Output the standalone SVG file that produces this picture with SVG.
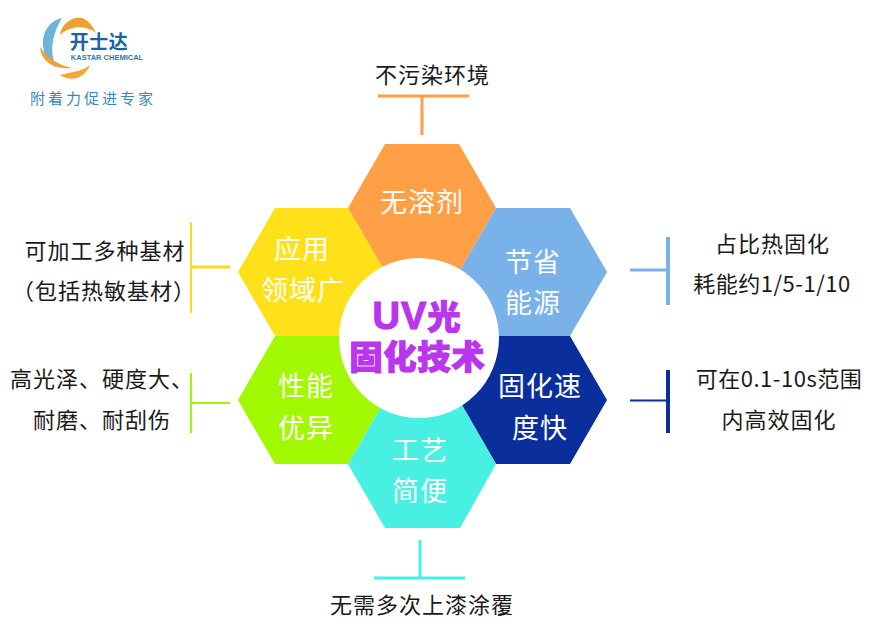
<svg xmlns="http://www.w3.org/2000/svg" width="886" height="633" viewBox="0 0 886 633">
<style>
text{font-family:"Noto Sans CJK SC","Liberation Sans",sans-serif;text-anchor:middle}
.h{font-size:27px;fill:#fff;letter-spacing:1px}
.l{font-size:22px;fill:#1a1a1a;letter-spacing:1px}
.n{letter-spacing:.5px}
.c{font-size:33px;font-weight:900;fill:#b935ee;stroke:#b935ee;stroke-width:1.2px;letter-spacing:1px}
.ln{fill:none;stroke-width:3}
</style>
<rect width="886" height="633" fill="#fff"/>
<g id="logo">
<path d="M62 18C48 21 42 34 43 46C44 56 50 64 57 68C50 56 50 38 62 18Z" fill="#6db4d8"/>
<path d="M60 35C61 24 72 16 82 18C88 20 93 26 96 33C86 25 71 25 60 35Z" fill="#f0a030"/>
<path d="M40 47C41 60 52 70 73 68C60 66 48 58 40 47Z" fill="#f0a030"/>
<path d="M60 75C72 83 86 77 90 65C83 71 72 72 60 75Z" fill="#f2a83a"/>
<text x="99" y="49" style="font-size:19px;font-weight:700;fill:#1763a8;letter-spacing:.5px">开士达</text>
<text x="107" y="60" style="font-size:7.5px;font-weight:700;fill:#2a78b8;font-family:'Liberation Sans',sans-serif">KASTAR CHEMICAL</text>
<text x="93" y="104" style="font-size:15px;fill:#3a87c0;letter-spacing:3px">附着力促进专家</text>
</g>
<g id="connectors">
<path class="ln" stroke="#ff9f46" d="M422 96V135M378 96H469"/>
<path class="ln" stroke="#ffd91a" d="M191 267H230"/><path stroke-width="2" fill="none" stroke="#ffd91a" d="M191 222V313"/>
<path stroke-width="2" fill="none" stroke="#9df50a" d="M191 403H230M191 373V433"/>
<path class="ln" stroke="#78b2e9" d="M630 270H668"/><path stroke-width="4" fill="none" stroke="#78b2e9" d="M668 237V305"/>
<path stroke-width="2" fill="none" stroke="#0a2f9c" d="M630 400.500H668"/><path stroke-width="4" fill="none" stroke="#0a2f9c" d="M668 370V433"/>
<path class="ln" stroke="#48efe3" d="M420 540V578M374 578H465"/>
</g>
<g id="hex-top"><polygon points="385,144 459,144 496,208 459,272 385,272 348,208" fill="#ff9f46"/><text class="h" x="422" y="212">无溶剂</text></g>
<g id="hex-upper-left"><polygon points="275,208 348,208 385,272 348,336 275,336 238,272" fill="#ffe119"/><text class="h" x="302" y="259">应用</text><text class="h" x="303" y="300">领域广</text></g>
<g id="hex-upper-right"><polygon points="496,208 570,208 607,272 570,336 496,336 459,272" fill="#78b2e9"/><text class="h" x="533" y="272">节省</text><text class="h" x="533" y="313">能源</text></g>
<g id="hex-lower-left"><polygon points="275,336 348,336 385,400 348,464 275,464 238,400" fill="#a2f800"/><text class="h" x="306" y="396">性能</text><text class="h" x="306" y="438">优异</text></g>
<g id="hex-lower-right"><polygon points="496,336 570,336 607,400 570,464 496,464 459,400" fill="#0a2f9c"/><text class="h" x="540" y="396">固化速</text><text class="h" x="540" y="438">度快</text></g>
<g id="hex-bottom"><polygon points="348,464 385,400 459,400 496,464 460,528 385,528" fill="#48efe3"/><text class="h" x="420" y="460">工艺</text><text class="h" x="420" y="501">简便</text></g>
<g id="center"><circle cx="419" cy="338" r="80" fill="#fff"/><text class="c" x="417" y="329"><tspan style="font-family:'Liberation Sans',sans-serif;font-size:38px;font-weight:700">UV</tspan>光</text><text class="c" x="417.500" y="369">固化技术</text></g>
<g id="label-top"><text class="l" x="432.500" y="83">不污染环境</text></g>
<g id="label-left-1"><text class="l" x="105" y="259">可加工多种基材</text><text class="l" x="104" y="299">（包括热敏基材）</text></g>
<g id="label-left-2"><text class="l" x="102" y="387">高光泽、硬度大、</text><text class="l" x="102" y="428">耐磨、耐刮伤</text></g>
<g id="label-right-1"><text class="l" x="772.500" y="252">占比热固化</text><text class="l n" x="772" y="292">耗能约1/5-1/10</text></g>
<g id="label-right-2"><text class="l n" x="779" y="387">可在0.1-10s范围</text><text class="l" x="779" y="428">内高效固化</text></g>
<g id="label-bottom"><text class="l" x="422" y="613">无需多次上漆涂覆</text></g>
</svg>
